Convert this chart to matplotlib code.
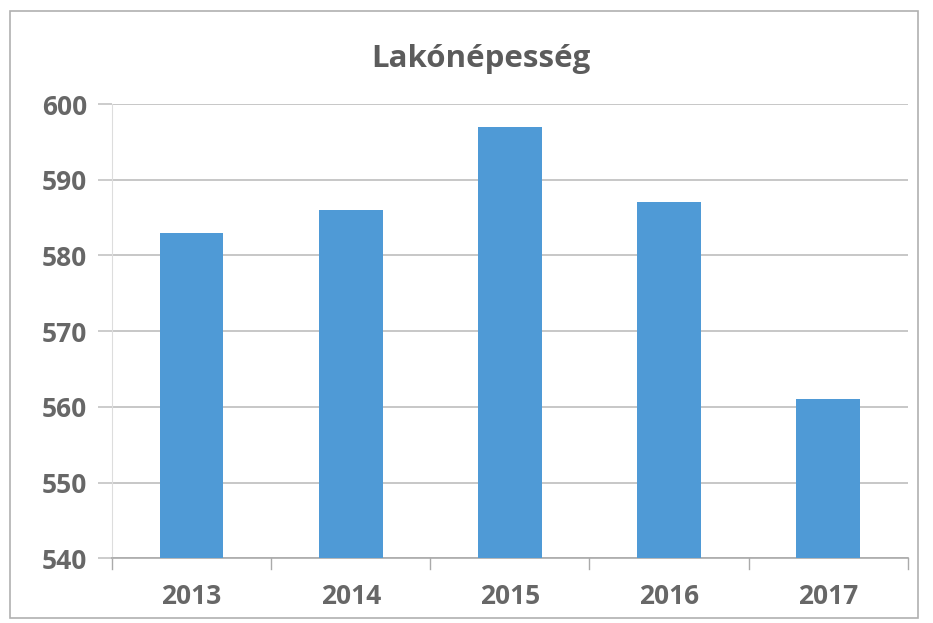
import matplotlib
matplotlib.use('Agg')
import matplotlib.pyplot as plt
import numpy as np

years = ['2013', '2014', '2015', '2016', '2017']
population = [583, 586, 597, 587, 561]
y_ticks = [540, 550, 560, 570, 580, 590, 600]

plt.rcParams['font.family'] = ['Open Sans', 'DejaVu Sans']

fig = plt.figure(figsize=(9.33, 6.23), dpi=100)
ax = fig.add_axes([0.12, 0.104, 0.853, 0.729])

x = np.arange(len(years))
ax.bar(x, np.array(population) - 540, bottom=540, width=0.4, color='#4f9ad6', zorder=3)

ax.set_xlim(-0.5, len(years) - 0.5)
ax.set_ylim(540, 600)
ax.set_yticks(y_ticks)
ax.set_yticklabels([str(v) for v in y_ticks], fontsize=19, color='#676767', fontweight='bold')
ax.set_xticks(x)
ax.set_xticklabels(years, fontsize=19, color='#676767', fontweight='bold')
ax.tick_params(axis='y', length=10, width=1.2, color='#c4c4c4', pad=8)
ax.tick_params(axis='x', length=0, pad=18)

# category boundary ticks on the x axis
for b in np.arange(-0.5, len(years), 1.0):
    ax.plot([b, b], [540, 538.6], color='#aaaaaa', lw=1, clip_on=False)

ax.grid(axis='y', color='#bdbdbd', lw=1.2, zorder=0)
for side in ('top', 'right'):
    ax.spines[side].set_visible(False)
ax.spines['left'].set_color('#dddddd')
ax.spines['bottom'].set_color('#aaaaaa')
ax.spines['bottom'].set_linewidth(1.2)

fig.text(0.515, 0.905, 'Lakónépesség', ha='center', va='center',
         fontsize=22.5, fontweight='bold', color='#5c5c5c')

# outer chart frame
fig.patches.append(plt.Rectangle((0.011, 0.008), 0.973, 0.975, transform=fig.transFigure,
                                 fill=False, edgecolor='#b0b0b0', lw=1.2))

fig.savefig('out.png', dpi=100)
